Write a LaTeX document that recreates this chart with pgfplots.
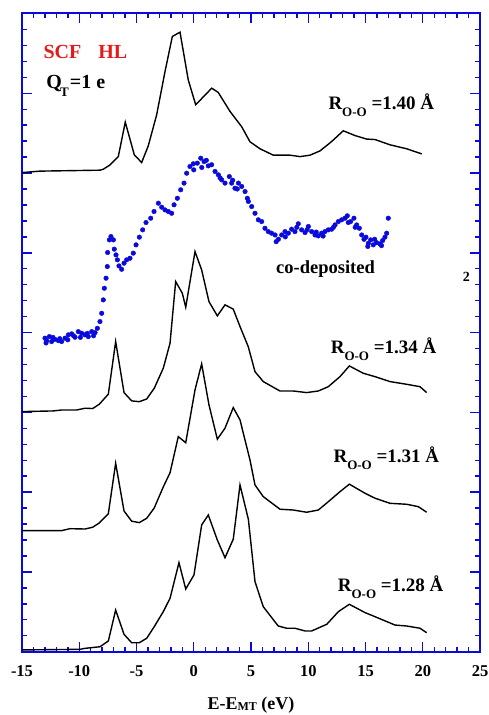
\documentclass[border=0pt]{standalone}
\usepackage{fontspec}
\setmainfont{Liberation Serif}
\usepackage{graphicx}
\usepackage{pgfplots}
\pgfplotsset{compat=1.18}
\definecolor{axblue}{RGB}{10,10,220}
\definecolor{scfred}{RGB}{230,25,25}
\newcommand{\fs}[1]{\fontsize{#1}{#1}\selectfont}
\newcommand{\rlab}[1]{\fs{19}R\raisebox{-6.7pt}{\fs{13}O-O} =#1 Å}

\begin{document}
\begin{tikzpicture}
\useasboundingbox (-22pt,-63.3pt) rectangle (467pt,651.7pt);
\begin{axis}[
  at={(0pt,0pt)}, anchor=south west,
  scale only axis, width=458pt, height=638.2pt,
  xmin=-15, xmax=25, ymin=0, ymax=40,
  xtick={-15,-10,...,25},
  xticklabels={-15,-10,-5,0,5,10,15,20,25},
  minor x tick num=4,
  ytick={0,5,...,40}, yticklabels={},
  minor y tick num=4,
  tick align=inside,
  major tick length=9.5pt, minor tick length=5pt,
  axis line style={axblue, line width=2pt},
  tick style={axblue, line width=1.4pt},
  xticklabel style={font=\bfseries\fs{16.5}, anchor=base, yshift=-24.3pt},
  xlabel={E-E\raisebox{-1.5pt}{\fs{12}MT} (eV)},
  xlabel style={font=\bfseries\fs{18}, at={(axis description cs:0.5,0)}, anchor=base, yshift=-57.5pt},
]
% R = 1.40
\addplot[black, line width=1.4pt] coordinates {
 (-15,30.03) (-13.43,30.12) (-8.19,30.18) (-7.90,30.24) (-7.31,30.51) (-6.59,31.03)
 (-5.98,33.19) (-5.19,31.14) (-4.55,30.66) (-3.97,31.71) (-3.24,33.65) (-2.51,36.36)
 (-1.87,38.56) (-1.20,38.83) (-0.48,35.84) (0.17,34.28) (1.57,35.32) (2.14,35.05)
 (3.17,33.86) (4.19,32.90) (4.91,31.96) (5.79,31.52) (6.95,31.12) (8.41,31.12)
 (9.28,31.03) (10.15,31.12) (11.03,31.39) (12.05,31.98) (13.06,32.65) (14.08,32.35)
 (15.10,32.13) (15.83,32.10) (17.14,31.77) (18.60,31.52) (19.91,31.20)
};
% R = 1.34
\addplot[black, line width=1.4pt] coordinates {
 (-15,15.05) (-12.27,15.09) (-11.53,15.15) (-10.22,15.15) (-9.50,15.26) (-8.83,15.24)
 (-8.25,15.51) (-7.46,16.14) (-6.82,19.44) (-6.09,16.24) (-5.42,15.72) (-4.76,15.67)
 (-4.11,15.84) (-3.45,16.51) (-2.66,17.77) (-2.07,19.34) (-1.58,23.20) (-1.00,22.47)
 (-0.70,21.59) (0.11,25.08) (0.69,23.93) (1.33,21.94) (2.06,21.05) (2.73,21.74)
 (3.45,21.47) (4.04,20.38) (4.76,19.12) (5.35,17.55) (6.07,16.93) (7.53,16.34)
 (8.69,16.34) (9.86,16.24) (10.88,16.34) (11.75,16.61) (12.77,17.24) (13.59,17.91)
 (14.81,17.45) (15.83,17.24) (17.14,16.93) (18.60,16.76) (19.76,16.61) (20.34,16.24)
};
% R = 1.31
\addplot[black, line width=1.4pt] coordinates {
 (-15,7.59) (-11.53,7.59) (-10.81,7.71) (-9.50,7.69) (-8.83,7.80) (-8.25,8.07)
 (-7.46,8.65) (-6.82,11.81) (-6.09,8.82) (-5.42,8.18) (-4.76,8.09) (-4.11,8.36)
 (-3.45,9.01) (-2.66,10.33) (-2.07,11.22) (-1.35,13.48) (-0.70,13.10) (0.11,16.41)
 (0.69,18.04) (1.33,15.47) (2.06,13.32) (2.73,14.01) (3.45,15.30) (4.04,14.53)
 (4.91,12.02) (5.35,10.45) (6.07,9.72) (7.53,8.93) (8.69,8.88) (9.86,8.74)
 (10.88,8.88) (11.75,9.40) (12.77,10.03) (13.59,10.50) (14.96,9.93) (15.83,9.62)
 (17.14,9.30) (18.60,9.24) (19.61,9.09) (20.34,8.74)
};
% R = 1.28
\addplot[black, line width=1.4pt] coordinates {
 (-15,0.11) (-9.93,0.15) (-9.50,0.21) (-8.19,0.31) (-7.46,0.67) (-6.82,2.61)
 (-6.09,1.09) (-5.42,0.56) (-4.76,0.56) (-4.11,0.84) (-3.45,1.57) (-2.66,2.51)
 (-2.07,3.35) (-1.29,5.58) (-0.70,3.93) (0.02,4.81) (0.69,7.94) (1.27,8.57)
 (2.06,7.00) (2.73,5.89) (3.45,7.05) (4.04,10.45) (4.77,8.30) (5.35,4.39)
 (6.07,2.82) (7.38,1.61) (8.12,1.47) (8.84,1.47) (9.72,1.30) (10.30,1.30)
 (11.62,1.72) (12.63,2.51) (13.59,2.97) (14.96,2.45) (15.68,2.24) (17.58,1.67)
 (18.60,1.61) (19.76,1.47) (20.34,1.19)
};
% co-deposited (experiment)
\addplot[only marks, mark=*, mark size=2.3pt, color=axblue] coordinates {
 (-12.99,19.65) (-12.85,19.50) (-12.61,19.75) (-12.41,19.44) (-12.12,19.58) (-11.83,19.50)
 (-11.54,19.44) (-11.24,19.65) (-10.95,19.86) (-10.66,19.92) (-10.37,19.71) (-10.08,20.06)
 (-9.79,19.96) (-9.50,19.86) (-9.21,19.75) (-8.91,20.06) (-8.62,20.00) (-8.42,20.27)
 (-12.90,19.35) (-12.30,19.70) (-11.70,19.62) (-11.00,19.55) (-10.50,19.80) (-9.90,19.70)
 (-9.30,19.95) (-8.75,19.80)
 (-8.19,20.69) (-8.04,21.21) (-7.90,22.05) (-7.81,22.78) (-7.66,23.41) (-7.55,24.14)
 (-7.52,25.02) (-7.37,25.81) (-7.23,26.02) (-7.02,25.81) (-6.94,25.23) (-6.79,24.87)
 (-6.67,24.56) (-6.53,24.18) (-6.30,23.97) (-6.09,24.35) (-5.86,24.56) (-5.57,24.66)
 (-5.28,24.98) (-5.04,25.50) (-4.75,25.98) (-4.46,26.44) (-4.17,26.90) (-3.76,27.17)
 (-3.47,27.59) (-3.09,28.11) (-2.80,27.86) (-2.51,27.69) (-2.22,27.59) (-1.93,27.48)
 (-1.72,28.01) (-1.43,28.42) (-1.14,28.95) (-0.85,29.37) (-0.62,29.99) (-0.33,30.41)
 (-0.04,30.58) (0.31,30.62) (0.61,30.93) (0.90,30.72) (1.27,30.45) (1.56,30.52)
 (0.00,30.20) (0.70,30.35) (1.10,30.80) (2.30,29.70) (3.40,29.55) (3.80,29.00)
 (1.86,30.10) (2.15,29.89) (2.44,29.57) (2.73,29.37) (3.11,29.78) (3.31,29.37)
 (3.60,29.05) (3.90,29.37) (4.19,29.16) (4.48,28.84) (4.68,28.42)
 (4.77,28.22) (5.06,27.90) (5.35,27.48) (5.64,27.07) (5.93,26.96) (6.22,26.54)
 (6.51,26.33) (6.80,26.23) (7.10,26.12) (7.39,25.85) (7.68,26.12) (7.97,26.33)
 (8.26,26.23) (8.55,26.48) (8.84,26.33) (9.13,26.82) (9.42,26.44) (9.72,26.27)
 (10.01,26.65) (10.30,26.33) (10.59,26.12) (10.88,26.06) (11.17,26.23) (11.46,26.33)
 (11.75,26.44) (12.04,26.48) (12.34,26.75) (12.63,26.96) (12.92,27.07) (13.21,27.17)
 (13.41,27.32) (13.70,26.96) (13.99,27.17) (14.23,26.75) (14.46,26.54) (14.67,26.12)
 (14.87,25.85) (15.04,25.98) (15.25,25.60) (15.45,25.81) (15.68,25.50) (15.97,25.64)
 (16.27,25.56) (16.50,25.77) (16.70,25.98) (16.85,26.23) (16.99,27.17)
 (7.20,25.70) (8.00,26.00) (9.00,26.60) (9.90,26.45) (10.70,26.30) (11.30,26.05)
 (12.20,26.60) (13.50,26.90) (14.10,26.60) (15.20,25.40) (15.80,25.85) (16.40,25.45)
};
\node[anchor=base west, text=scfred, font=\bfseries\fs{20}] at (axis cs:-13.43,37.20) {SCF\hspace{17pt}HL};
\node[anchor=base west, font=\bfseries\fs{20}] at (axis cs:-13.19,35.32) {Q\kern-1.6pt\raisebox{-8pt}{\fs{13}T}\kern1pt=1 e};
\node[anchor=base west, font=\bfseries] at (axis cs:11.46,33.96) {\rlab{1.40}};
\node[anchor=base west, font=\bfseries] at (axis cs:11.66,18.66) {\rlab{1.34}};
\node[anchor=base west, font=\bfseries] at (axis cs:11.90,11.85) {\rlab{1.31}};
\node[anchor=base west, font=\bfseries] at (axis cs:12.28,3.76) {\rlab{1.28}};
\node[anchor=base west, inner sep=0pt, font=\bfseries\fs{18.5}] at (axis cs:7.18,23.68) {co-deposited};
\node[anchor=base west, inner sep=0pt, font=\bfseries\fs{14}] at (axis cs:23.49,23.20) {2};
\end{axis}
\end{tikzpicture}
\end{document}
